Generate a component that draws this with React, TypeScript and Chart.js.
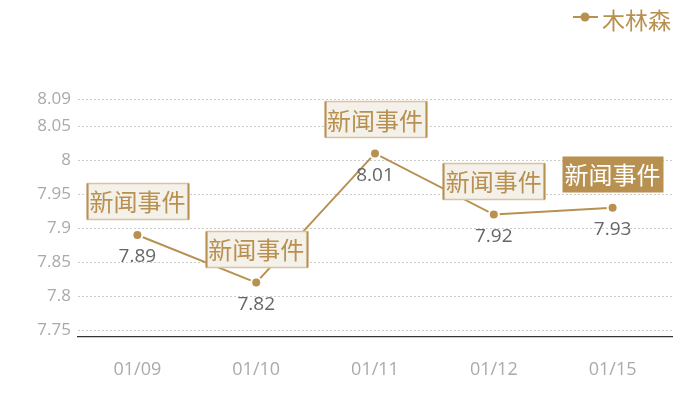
import React, { useEffect, useRef } from "react";
import { Chart, registerables } from "chart.js";

Chart.register(...registerables);

const categories = ["01/09", "01/10", "01/11", "01/12", "01/15"];
const values = [7.89, 7.82, 8.01, 7.92, 7.93];
const yTicks = [7.75, 7.8, 7.85, 7.9, 7.95, 8, 8.05, 8.09];
const eventLabels = ["新闻事件", "新闻事件", "新闻事件", "新闻事件", "新闻事件"];
const eventHighlighted = [false, false, false, false, true];
const seriesName = "木林森";

const GOLD = "#B8904F";
const FONT = "'Noto Sans CJK SC', 'Noto Sans', sans-serif";
const NUM_FONT = "'Open Sans', 'Noto Sans CJK SC', sans-serif";

const overlayPlugin = {
  id: "overlay",
  afterDatasetsDraw(chart: any) {
    const ctx = chart.ctx;
    const meta = chart.getDatasetMeta(0);
    ctx.save();
    // value labels
    ctx.font = `19px ${NUM_FONT}`;
    ctx.fillStyle = "#666";
    ctx.textAlign = "center";
    ctx.textBaseline = "middle";
    meta.data.forEach((pt: any, i: number) => {
      ctx.fillText(String(values[i]), pt.x, pt.y + 22);
    });
    // event boxes
    ctx.font = `24px ${FONT}`;
    meta.data.forEach((pt: any, i: number) => {
      const w = 101;
      const h = 36;
      const cx = pt.x;
      const cy = pt.y - 34;
      const x0 = Math.round(cx - w / 2) + 0.5;
      const y0 = Math.round(cy - h / 2) + 0.5;
      if (eventHighlighted[i]) {
        ctx.fillStyle = GOLD;
        ctx.fillRect(x0, y0, w, h);
        ctx.fillStyle = "#fff";
      } else {
        ctx.fillStyle = "#F4F0EA";
        ctx.fillRect(x0, y0, w, h);
        ctx.strokeStyle = "#D9C3A0";
        ctx.lineWidth = 1.5;
        ctx.strokeRect(x0, y0, w, h);
        ctx.strokeStyle = GOLD;
        ctx.lineWidth = 2;
        ctx.beginPath();
        ctx.moveTo(x0, y0);
        ctx.lineTo(x0, y0 + h);
        ctx.moveTo(x0 + w, y0);
        ctx.lineTo(x0 + w, y0 + h);
        ctx.stroke();
        ctx.fillStyle = GOLD;
      }
      ctx.fillText(eventLabels[i], cx, cy + 1);
    });
    // legend
    ctx.strokeStyle = GOLD;
    ctx.lineWidth = 2;
    ctx.beginPath();
    ctx.moveTo(573, 17);
    ctx.lineTo(598, 17);
    ctx.stroke();
    ctx.fillStyle = GOLD;
    ctx.beginPath();
    ctx.arc(585, 17, 4.5, 0, Math.PI * 2);
    ctx.fill();
    ctx.font = `23px ${FONT}`;
    ctx.textAlign = "left";
    ctx.fillText(seriesName, 602, 20);
    ctx.restore();
  },
};

export default function App() {
  const ref = useRef<HTMLCanvasElement>(null);
  useEffect(() => {
    if (!ref.current) return;
    const chart = new Chart(ref.current, {
      type: "line",
      data: {
        labels: categories,
        datasets: [
          {
            label: seriesName,
            data: values,
            borderColor: GOLD,
            backgroundColor: GOLD,
            borderWidth: 2,
            pointRadius: 5,
            pointBorderWidth: 2,
            pointBorderColor: "#fff",
            pointBackgroundColor: GOLD,
            tension: 0,
          },
        ],
      },
      options: {
        animation: false,
        responsive: true,
        maintainAspectRatio: false,
        layout: { padding: { left: 0, right: 28, top: 99, bottom: 0 } },
        plugins: { legend: { display: false }, tooltip: { enabled: false } },
        scales: {
          x: {
            offset: true,
            grid: { display: false, drawTicks: false },
            border: { display: true, color: "#333", width: 1.2 },
            ticks: { color: "#aaa", font: { size: 18, family: NUM_FONT }, padding: 22 },
            afterFit(scale: any) {
              scale.height = 63;
            },
          },
          y: {
            min: 7.74,
            max: 8.09,
            afterBuildTicks(scale: any) {
              scale.ticks = yTicks.map((v) => ({ value: v }));
            },
            afterFit(scale: any) {
              scale.width = 78;
            },
            grid: { color: "#ccc", drawTicks: false, lineWidth: 1 },
            border: { display: false, dash: [2, 2] },
            ticks: {
              color: "#aaa",
              font: { size: 17, family: NUM_FONT },
              padding: 7,
              callback: (v: any) => String(Number(v)),
            },
          },
        },
      },
      plugins: [overlayPlugin],
    });
    return () => chart.destroy();
  }, []);
  return (
    <div style={{ position: "fixed", left: 0, top: 0, width: 700, height: 400, background: "#fff" }}>
      <canvas ref={ref} />
    </div>
  );
}
